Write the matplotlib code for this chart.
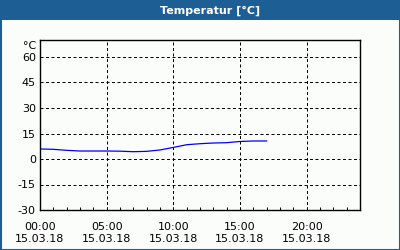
import matplotlib
matplotlib.use("Agg")
import matplotlib.pyplot as plt
from matplotlib.patches import Rectangle

hours = [0, 1, 2, 3, 4, 5, 6, 7, 8, 9, 10, 11, 12, 13, 14, 15, 16, 17]
temps = [5.9, 5.7, 5.1, 4.7, 4.7, 4.7, 4.6, 4.3, 4.5, 5.3, 6.8, 8.4, 9.0, 9.4, 9.6, 10.3, 10.6, 10.6]
xtick_hours = [0, 5, 10, 15, 20]
xtick_labels = ["00:00\n15.03.18", "05:00\n15.03.18", "10:00\n15.03.18", "15:00\n15.03.18", "20:00\n15.03.18"]
yticks = [-30, -15, 0, 15, 30, 45, 60]
title = "Temperatur [°C]"
unit = "°C"

W, H = 400, 250
fig = plt.figure(figsize=(W / 100, H / 100), dpi=100)
fig.patch.set_facecolor("#fbfdfb")
blue = "#1d5f94"
# title bar and border
fig.patches.append(Rectangle((0, 1 - 20 / H), 1, 20 / H, transform=fig.transFigure,
                             facecolor=blue, edgecolor="none", zorder=0))
fig.patches.append(Rectangle((0.5 / W, 0.5 / H), 1 - 1 / W, 1 - 1 / H, transform=fig.transFigure,
                             facecolor="none", edgecolor=blue, linewidth=1.5, zorder=1))
fig.text(210 / W, 1 - 10.5 / H, title, color="white", fontsize=8, fontweight="bold",
         ha="center", va="center")

ax = fig.add_axes([40 / W, 40 / H, 320 / W, 170 / H])
ax.set_facecolor("#fbfdfb")
ax.plot(hours, temps, color="#0000ff", linewidth=0.9)
ax.set_xlim(0, 24)
ax.set_ylim(-30, 70)
ax.set_yticks(yticks)
ax.set_yticklabels([str(v) for v in yticks], fontsize=8)
ax.set_xticks(xtick_hours)
ax.set_xticklabels(xtick_labels, fontsize=8, linespacing=1.25)
ax.set_xticks(range(0, 25), minor=True)
ax.tick_params(axis="x", which="both", direction="in", length=2.5, width=0.72, pad=8.5)
ax.tick_params(axis="y", which="both", length=0, pad=3)
ax.grid(True, color="black", linewidth=0.72, linestyle=(0, (3, 2.5)))
for s in ax.spines.values():
    s.set_linewidth(1.0)
    s.set_color("black")
ax.text(-0.012, 66.5, unit, transform=ax.get_yaxis_transform(), ha="right", va="center", fontsize=8)

fig.savefig("out.png", dpi=100, facecolor=fig.get_facecolor())
